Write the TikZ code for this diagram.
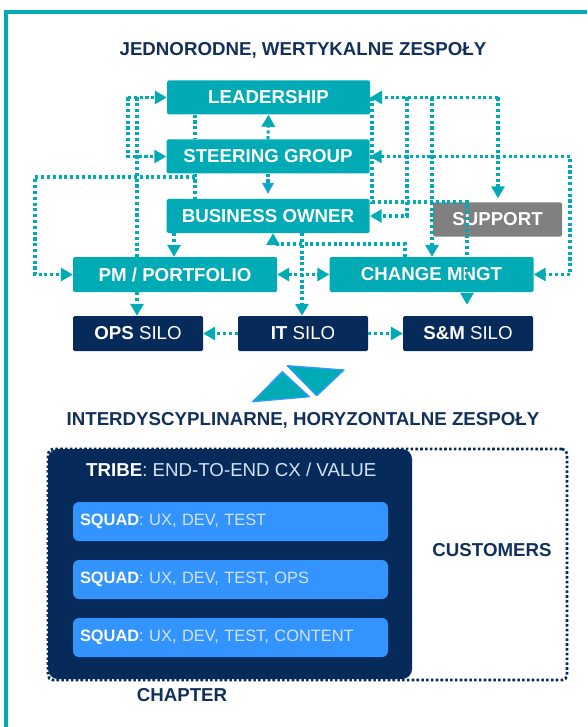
\documentclass[tikz,border=0pt]{standalone}
\usepackage{fontspec}
\setmainfont{Liberation Sans}
\usetikzlibrary{arrows.meta}

\definecolor{brandteal}{HTML}{00ABB6}
\definecolor{brandnavy}{HTML}{062A5A}
\definecolor{titlenavy}{HTML}{13305B}
\definecolor{supportgray}{HTML}{808080}
\definecolor{squadblue}{HTML}{3394FF}
\definecolor{edgeblue}{HTML}{3399FF}
\definecolor{softtext}{HTML}{D3E3F5}

\newcommand\boxfnt{\fontsize{18.7}{22}\selectfont}
\newcommand\squadfnt{\fontsize{16.4}{20}\selectfont}

\tikzset{
  conn/.style={brandteal, line width=3.1pt, dash pattern=on 3.1pt off 2.7pt},
  >={Triangle[length=12pt,width=13pt]},
  box/.style={rectangle, rounded corners=1.5pt, inner sep=0pt, text=white, font=\boxfnt\bfseries},
  tealbox/.style={box, fill=brandteal, minimum width=203pt, minimum height=34pt},
  silobox/.style={box, fill=brandnavy, minimum width=130pt, minimum height=35pt},
  graybox/.style={box, fill=supportgray, minimum width=129pt, minimum height=34pt},
  heading/.style={text=titlenavy, font=\boxfnt\bfseries, inner sep=0pt},
  squad/.style={rectangle, rounded corners=6pt, fill=squadblue, minimum width=315pt,
    minimum height=39pt, text width=301pt, inner xsep=7pt, align=left,
    text=softtext, font=\squadfnt},
  wedge/.style={fill=brandteal, draw=edgeblue, line width=1.3pt, line join=round},
}

\begin{document}
\begin{tikzpicture}[x=1pt,y=-1pt]
\useasboundingbox (0,0) rectangle (587,727);

% outer frame
\draw[brandteal, line width=4pt] (6,727) -- (6,12) -- (587,12);

% headings
\node[heading] (topHead) at (303,50) {JEDNORODNE, WERTYKALNE ZESPOŁY};
\node[heading] (midHead) at (303,420) {INTERDYSCYPLINARNE, HORYZONTALNE ZESPOŁY};

% guide coordinates for the connector routing
\coordinate (c35) at (35,0);
\coordinate (c128) at (128,0);
\coordinate (c137) at (137,0);
\coordinate (c174) at (174,0);
\coordinate (c195) at (195,0);
\coordinate (c273) at (273,0);
\coordinate (c302) at (302,0);
\coordinate (c372) at (372,0);
\coordinate (c405) at (405,0);
\coordinate (c407) at (407,0);
\coordinate (c432) at (432,0);
\coordinate (c467) at (467,0);
\coordinate (c498) at (498,0);
\coordinate (c570) at (570,0);
\coordinate (r97) at (0,97.5);
\coordinate (r177) at (0,177);
\coordinate (r202) at (0,202);
\coordinate (r244) at (0,244);

% vertical hierarchy boxes
\node[tealbox] (leadership) at (268.5,97.5) {LEADERSHIP};
\node[tealbox] (steering) at (268,156.5) {STEERING GROUP};
\node[tealbox] (business) at (268,216) {BUSINESS OWNER};
\node[graybox] (support) at (497.5,219.5) {SUPPORT};
\node[tealbox, minimum width=204pt, minimum height=35pt] (pm) at (175,274.5) {PM / PORTFOLIO};
\node[tealbox, minimum width=204pt, minimum height=35pt] (change) at (431.5,274.5) {CHANGE MNGT};
\node[silobox] (ops) at (138,333.5) {OPS\mdseries\ SILO};
\node[silobox] (it) at (303,333.5) {IT\mdseries\ SILO};
\node[silobox] (sm) at (468,333.5) {S\&M\mdseries\ SILO};

% left-hand links
\draw[conn,->] (c128 |- r97) -- (leadership.west);
\draw[conn,->] (c128 |- r97) |- (steering.west);
\draw[conn] (c137 |- r97) -- (c137 |- pm.north);
\draw[conn] (c195 |- leadership.south) -- (c195 |- steering.north);
\draw[conn] (c195 |- steering.south) -- (c195 |- business.north);
\draw[conn,->] (c195 |- r177) -- (c35 |- r177) |- (pm.west);

% central links
\draw[conn,->] (steering.north) -- (leadership.south);
\draw[conn,-{Triangle[length=11pt,width=12pt,line width=1.2pt,fill=brandteal,color=edgeblue]}]
  (steering.south) -- ([yshift=5pt]business.north);
\draw[conn,->] (c174 |- business.south) -- (c174 |- pm.north);
\draw[conn,->] (c405 |- change.north) |- (c273 |- r244) -- (c273 |- business.south);
\draw[conn,->] (c302 |- business.south) -- (c302 |- it.north);
\draw[conn,<->] (pm.east) -- (change.west);
\draw[conn,->] (c137 |- pm.south) -- (c137 |- ops.north);
\draw[conn,->] (it.west) -- (ops.east);
\draw[conn,->] (it.east) -- (sm.west);

% right-hand links
\draw[conn,->] (c498 |- r97) -- (leadership.east);
\draw[conn,->, shorten >=4pt] (c498 |- r97) -- (c498 |- support.north);
\draw[conn,->] (c407 |- r97) |- (business.east);
\draw[conn,->] (c432 |- r97) -- (c432 |- change.north);
\draw[conn,<->] (steering.east) -| (c570 |- change.east) -- (change.east);
\draw[conn,->, shorten >=11pt] (c372 |- r97) -- (c372 |- r202) -- (c467 |- r202)
  -- (c467 |- sm.north);

% transition wedges
\draw[wedge] (252.7,401.7) -- (282.3,371.7) -- (309.3,396.7) -- cycle;
\draw[wedge] (287.3,365.7) -- (344,370) -- (316.7,395.7) -- cycle;

% tribe and squads
\node[rectangle, rounded corners=10pt, fill=brandnavy, minimum width=364pt,
  minimum height=230pt, inner sep=0pt] (tribe) at (230,564) {};
\node[rectangle, rounded corners=5pt, draw=brandnavy, line width=2.6pt,
  dash pattern=on 2.6pt off 2.2pt, minimum width=519pt, minimum height=231pt,
  inner sep=0pt] (chapterzone) at (307.5,564.5) {};
\node[anchor=west, inner sep=0pt, text=softtext, font=\boxfnt] (tribeLabel) at (86,470)
  {\textcolor{white}{\bfseries TRIBE}: END-TO-END CX / VALUE};
\node[squad] (sq1) at (230.5,521.5) {\textcolor{white}{\bfseries SQUAD}: UX, DEV, TEST};
\node[squad] (sq2) at (230.5,579.5) {\textcolor{white}{\bfseries SQUAD}: UX, DEV, TEST, OPS};
\node[squad] (sq3) at (230.5,637.5) {\textcolor{white}{\bfseries SQUAD}: UX, DEV, TEST, CONTENT};

\node[heading] (customers) at (492,550) {CUSTOMERS};
\node[heading] (chapter) at (182,695) {CHAPTER};
\end{tikzpicture}
\end{document}
